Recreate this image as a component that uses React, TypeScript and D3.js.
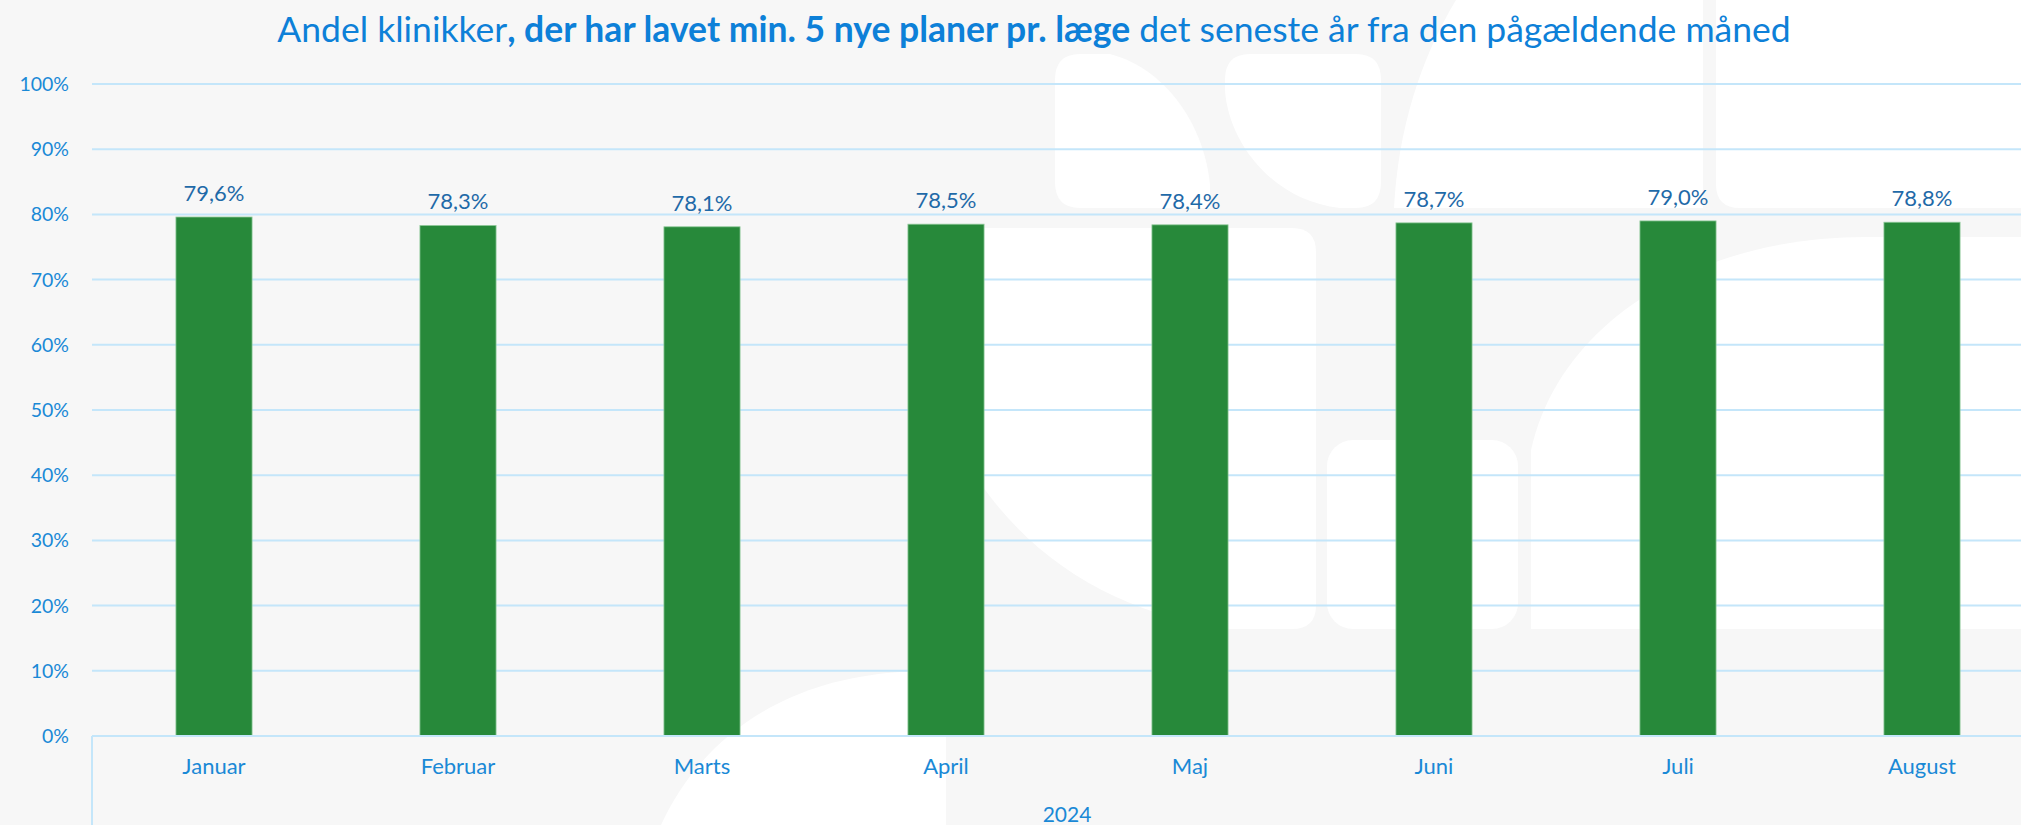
import React from 'react';
import * as d3 from 'd3';

const WIDTH = 2021;
const HEIGHT = 825;
const MARGIN = { top: 84, left: 92, bottom: 89 };

const months = ['Januar', 'Februar', 'Marts', 'April', 'Maj', 'Juni', 'Juli', 'August'];
const shares = [79.6, 78.3, 78.1, 78.5, 78.4, 78.7, 79.0, 78.8];
const yTicks = [0, 10, 20, 30, 40, 50, 60, 70, 80, 90, 100];
const yearLabel = '2024';

const titleParts = [
  { text: 'Andel klinikker', bold: false },
  { text: ', der har lavet min. 5 nye planer pr. læge', bold: true },
  { text: ' det seneste år fra den pågældende måned', bold: false },
];

const FONT = 'Lato, "Open Sans", sans-serif';
const BLUE = '#1a89d6';
const LABEL_BLUE = '#1f6aa8';
const GREEN = '#27893a';
const GRID = '#c4e6fa';

const App = () => {
  const plotBottom = HEIGHT - MARGIN.bottom;

  const x = d3
    .scaleBand<string>()
    .domain(months)
    .range([MARGIN.left, MARGIN.left + 244 * months.length])
    .paddingInner(0.688)
    .paddingOuter(0.344);

  const y = d3.scaleLinear().domain([0, 100]).range([plotBottom, MARGIN.top]);

  const fmt = (v: number) => v.toFixed(1).replace('.', ',') + '%';

  return (
    <svg
      width={WIDTH}
      height={HEIGHT}
      style={{ position: 'absolute', left: 0, top: 0 }}
      fontFamily={FONT}
    >
      <rect width={WIDTH} height={HEIGHT} fill="#f7f7f7" />

      {/* watermark shapes in the background */}
      <g fill="#ffffff">
        <path d="M1055 80 Q1055 54 1080 54 L1110 54 C1170 70 1205 130 1210 185 L1210 208 L1080 208 Q1055 208 1055 182 Z" />
        <path d="M1225 80 Q1225 54 1250 54 L1356 54 Q1381 54 1381 80 L1381 182 Q1381 208 1356 208 L1340 208 C1270 200 1228 140 1225 90 Z" />
        <path d="M1456 0 L1703 0 L1703 208 L1394 208 C1398 130 1420 60 1456 0 Z" />
        <path d="M1716 0 L2021 0 L2021 208 L1740 208 Q1716 208 1716 184 Z" />
        <path d="M947 250 Q947 228 970 228 L1292 228 Q1316 228 1316 252 L1316 605 Q1316 629 1292 629 L1230 629 C1120 615 1020 560 960 450 Z" />
        <rect x={1327} y={440} width={191} height={189} rx={26} />
        <path d="M1531 629 L1531 450 C1560 320 1700 237 1866 237 L2021 237 L2021 629 Z" />
        <path d="M661 825 C700 740 780 680 900 672 L946 672 L946 825 Z" />
      </g>

      {/* title */}
      <text x={1034} y={42} textAnchor="middle" fontSize={35.5} fill="#0d80d8">
        {titleParts.map((p, i) => (
          <tspan key={i} fontWeight={p.bold ? 700 : 400}>
            {p.text}
          </tspan>
        ))}
      </text>

      {/* gridlines */}
      {yTicks.map((t) => (
        <line
          key={t}
          x1={MARGIN.left}
          x2={WIDTH}
          y1={y(t)}
          y2={y(t)}
          stroke={GRID}
          strokeWidth={2}
        />
      ))}

      {/* y tick labels */}
      {yTicks.map((t) => (
        <text
          key={'l' + t}
          x={69}
          y={y(t) + 7}
          textAnchor="end"
          fontSize={19.5}
          fill={BLUE}
        >
          {t}%
        </text>
      ))}

      {/* bars */}
      {months.map((m, i) => (
        <rect
          key={m}
          x={x(m)}
          y={y(shares[i])}
          width={x.bandwidth()}
          height={plotBottom - y(shares[i])}
          fill={GREEN}
          stroke="#8fc99a"
          strokeWidth={0.8}
        />
      ))}

      {/* value labels */}
      {months.map((m, i) => (
        <text
          key={'v' + m}
          x={(x(m) ?? 0) + x.bandwidth() / 2}
          y={y(shares[i]) - 16}
          textAnchor="middle"
          fontSize={22}
          fill={LABEL_BLUE}
        >
          {fmt(shares[i])}
        </text>
      ))}

      {/* x axis */}
      <line x1={MARGIN.left} x2={WIDTH} y1={plotBottom} y2={plotBottom} stroke={GRID} strokeWidth={2} />
      <line x1={MARGIN.left} x2={MARGIN.left} y1={plotBottom} y2={HEIGHT} stroke={GRID} strokeWidth={2} />

      {months.map((m) => (
        <text
          key={'c' + m}
          x={(x(m) ?? 0) + x.bandwidth() / 2}
          y={774}
          textAnchor="middle"
          fontSize={22}
          fill={BLUE}
        >
          {m}
        </text>
      ))}

      <text x={1067} y={822} textAnchor="middle" fontSize={21} fill={BLUE}>
        {yearLabel}
      </text>
    </svg>
  );
};

export default App;
